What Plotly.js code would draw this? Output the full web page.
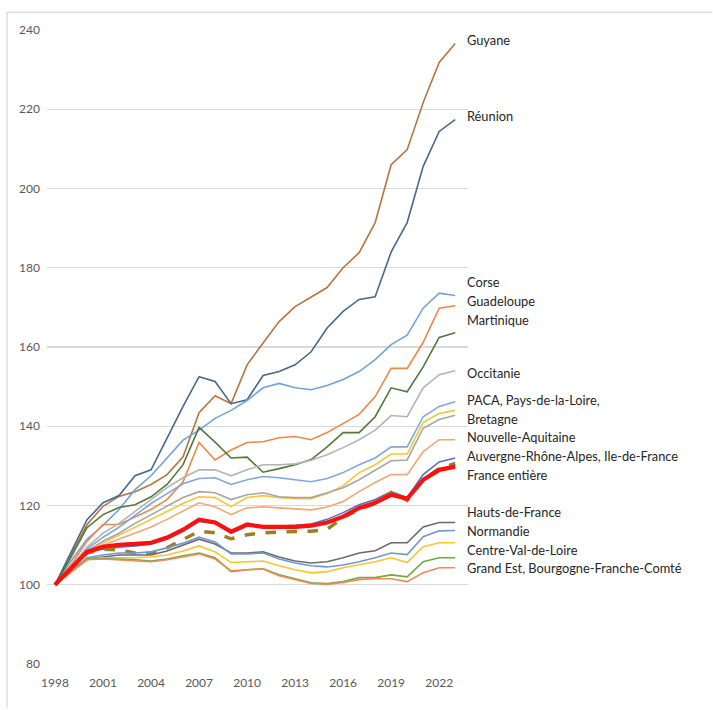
<!DOCTYPE html>
<html>
<head>
<meta charset="utf-8">
<script src="https://cdn.plot.ly/plotly-3.0.1.min.js"></script>
<style>
html,body{margin:0;padding:0;background:#fff;}
#chart{width:713px;height:710px;}
</style>
</head>
<body>
<div id="chart"></div>
<script>
const years = [1998,1999,2000,2001,2002,2003,2004,2005,2006,2007,2008,2009,2010,2011,2012,2013,2014,2015,2016,2017,2018,2019,2020,2021,2022,2023];
const xTicks = [1998,2001,2004,2007,2010,2013,2016,2019,2022];
const yTicks = [80,100,120,140,160,180,200,220,240];

const guyane      = [100,107.5,115.2,119.8,122.3,123.5,125.3,127.8,132.3,143.4,147.7,145.7,155.5,161,166.4,170.2,172.5,175,180,183.8,191.4,206,209.8,221.7,231.8,236.6];
const reunion     = [100,108,116.4,120.7,122.5,127.5,129,137,145,152.5,151.3,145.7,146.7,152.8,153.8,155.5,158.8,164.8,169,172,172.7,184,191.4,205.6,214.4,217.4];
const corse       = [100,106,111.5,115,119,124,127.5,132,136.5,139,142,144,146.5,149.7,150.8,149.7,149.2,150.3,151.8,153.8,156.8,160.6,163,169.8,173.6,173];
const guadeloupe  = [100,105,111,115.2,115.2,117,119,121.5,126,135.9,131.5,134,135.9,136.1,137.1,137.4,136.6,138.4,140.8,143,147.5,154.6,154.6,161.2,169.8,170.4];
const martinique  = [100,107,114.4,117.7,119.5,120.2,122.2,125.3,130.3,139.7,136,132,132.2,128.4,129.3,130.3,131.6,134.8,138.4,138.4,142.4,149.7,148.7,155,162.4,163.6];
const occitanie   = [100,104.5,109.5,113,115.5,118.5,121.5,124.5,127,129,129,127.5,129,130.3,130.3,130.5,131.4,132.8,134.6,136.6,139,142.7,142.4,149.7,153,154];
const paca        = [100,104.5,109,112,114.5,117.5,120.5,123,125.5,126.8,127,125.3,126.5,127.3,127,126.5,126,126.8,128.3,130.3,132,134.8,134.8,142.4,145,146.2];
const paysLoire   = [100,104.3,108.5,110.5,112.5,114.5,116.5,118.5,120.5,122.2,122,119.7,122,122.5,122,121.7,121.7,123,125,128.3,130.3,133,133,141,143.2,144];
const bretagne    = [100,104.3,108.5,111,113,115.5,117.7,120,122,123.5,123.2,121.5,122.7,123.2,122.2,122,122,123.2,124.5,126.5,128.8,131.3,131.5,139.5,141.7,142.8];
const nAquitaine  = [100,104.2,108.5,110,111.5,113,114.6,116.5,118.5,120.7,119.7,117.7,119.4,119.7,119.4,119.2,118.9,119.6,121,123.5,125.8,127.8,127.8,133.6,136.6,136.6];
const auvergneRA  = [100,104,108,109,109.5,109.8,110.2,111.5,113.5,116,115.5,113,114.8,114.8,114.8,115,115.3,116.5,118.2,120.2,121.5,123.5,122,127.8,131,132];
const ileDeFrance = [100,104,108,109,108.8,108,108,109.3,111.5,113.5,113.1,111.6,112.6,113.1,113.3,113.3,113.5,114,117,119,120.5,123.3,121.3,126.5,129.3,130.6];
const france      = [100,104.3,108.3,109.6,110.1,110.3,110.6,111.9,113.9,116.4,115.7,113.4,115.2,114.6,114.6,114.6,114.9,115.7,117.2,119.4,120.7,122.7,121.7,126.5,129,129.8];
const hautsFrance = [100,103.5,106.5,107,107.5,107.5,107.5,108.5,110,111.5,110.3,108,108,108.3,107,106,105.5,105.8,106.8,108,108.6,110.6,110.6,114.6,115.7,115.7];
const normandie   = [100,103.5,106.8,107.5,108,108,108.3,109.3,110.5,112,110.8,107.8,107.8,108,106.5,105.5,104.8,104.5,105,105.8,106.8,108,107.6,112.1,113.6,113.7];
const centreVL    = [100,103.3,106.5,106.8,106.8,106.8,107,107.5,108.5,109.8,108.3,105.6,105.8,106,104.8,103.8,103,103.3,104.3,105,105.8,106.8,105.6,109.6,110.6,110.6];
const grandEst    = [100,103.2,106.5,106.6,106.5,106.3,106,106.5,107.3,108,106.8,103.3,103.8,104,102.5,101.5,100.5,100.3,100.8,101.8,101.8,102.5,102,105.8,106.8,106.8];
const bourgogneFC = [100,103.2,106.3,106.5,106.3,106,105.8,106.3,107,107.8,106.5,103.5,103.8,104,102.3,101.3,100.3,100.1,100.6,101.3,101.5,101.5,100.8,103,104.3,104.3];

const seriesNames = ["Guyane","Réunion","Corse","Guadeloupe","Martinique","Occitanie","PACA","Pays-de-la-Loire","Bretagne","Nouvelle-Aquitaine","Auvergne-Rhône-Alpes","Ile-de-France","Hauts-de-France","Normandie","Centre-Val-de-Loire","Grand Est","Bourgogne-Franche-Comté","France entière"];
const seriesValues = [guyane,reunion,corse,guadeloupe,martinique,occitanie,paca,paysLoire,bretagne,nAquitaine,auvergneRA,ileDeFrance,hautsFrance,normandie,centreVL,grandEst,bourgogneFC,france];

const endLabels = ["Guyane","Réunion","Corse","Guadeloupe","Martinique","Occitanie","PACA, Pays-de-la-Loire,","Bretagne","Nouvelle-Aquitaine","Auvergne-Rhône-Alpes, Ile-de-France","France entière","Hauts-de-France","Normandie","Centre-Val-de-Loire","Grand Est, Bourgogne-Franche-Comté"];

// styles (kept separate from data)
const styles = [
  {color:"#B9743F", width:1.6},
  {color:"#46698F", width:1.6},
  {color:"#72A3D8", width:1.6},
  {color:"#EE8848", width:1.6},
  {color:"#4F7A3C", width:1.6},
  {color:"#B4B4B4", width:1.6},
  {color:"#7FA7DC", width:1.6},
  {color:"#F7C636", width:1.6},
  {color:"#A6A6A6", width:1.6},
  {color:"#F2A778", width:1.6},
  {color:"#4A78C0", width:1.6},
  {color:"#9C7F22", width:3.5, dash:"dash"},
  {color:"#6B6B6B", width:1.6},
  {color:"#7097D2", width:1.6},
  {color:"#F9C52E", width:1.6},
  {color:"#6DAA48", width:1.6},
  {color:"#EE8C55", width:1.6},
  {color:"#FF1010", width:4.2}
];
const labelY = [237.4,218.4,176.3,171.5,166.7,153.5,146.7,141.9,137.4,132.6,127.8,118.4,113.6,108.8,104.3];

const traces = seriesValues.map((vals,i)=>({
  type:"scatter", mode:"lines", x:years, y:vals, name:seriesNames[i],
  line:{color:styles[i].color, width:styles[i].width, dash:styles[i].dash||"solid"},
  hoverinfo:"skip"
}));

const annotations = endLabels.map((t,i)=>({
  x:2023.6, y:labelY[i], xref:"x", yref:"y", text:t, showarrow:false,
  xanchor:"left", yanchor:"middle",
  font:{family:"Lato, 'Open Sans', sans-serif", size:12.8, color:"#262626"}
}));

const layout = {
  width:713, height:710,
  margin:{l:47, r:245, t:30, b:46},
  paper_bgcolor:"#ffffff", plot_bgcolor:"#ffffff",
  showlegend:false,
  xaxis:{range:[1997.5,2023.8], tickvals:xTicks, ticktext:xTicks.map(String),
    showgrid:false, zeroline:false, showline:false, ticks:"", ticklabelstandoff:10,
    tickfont:{family:"Lato, 'Open Sans', sans-serif", size:12, color:"#595959"}},
  yaxis:{range:[80,240], tickvals:yTicks, showgrid:true, gridcolor:"#D9D9D9", gridwidth:1.2,
    zeroline:false, showline:false, ticks:"", ticklabelstandoff:6,
    tickfont:{family:"Lato, 'Open Sans', sans-serif", size:12, color:"#595959"}},
  annotations:annotations,
  shapes:[
    {type:"line", xref:"paper", yref:"paper", x0:-0.095, x1:-0.095, y0:-0.07, y1:1.028, line:{color:"#CFCFCF", width:1}, layer:"above"},
    {type:"line", xref:"paper", yref:"paper", x0:-0.095, x1:1.58, y0:1.028, y1:1.028, line:{color:"#CFCFCF", width:1}, layer:"above"}
  ]
};

Plotly.newPlot("chart", traces, layout, {displayModeBar:false, staticPlot:true});
</script>
</body>
</html>
